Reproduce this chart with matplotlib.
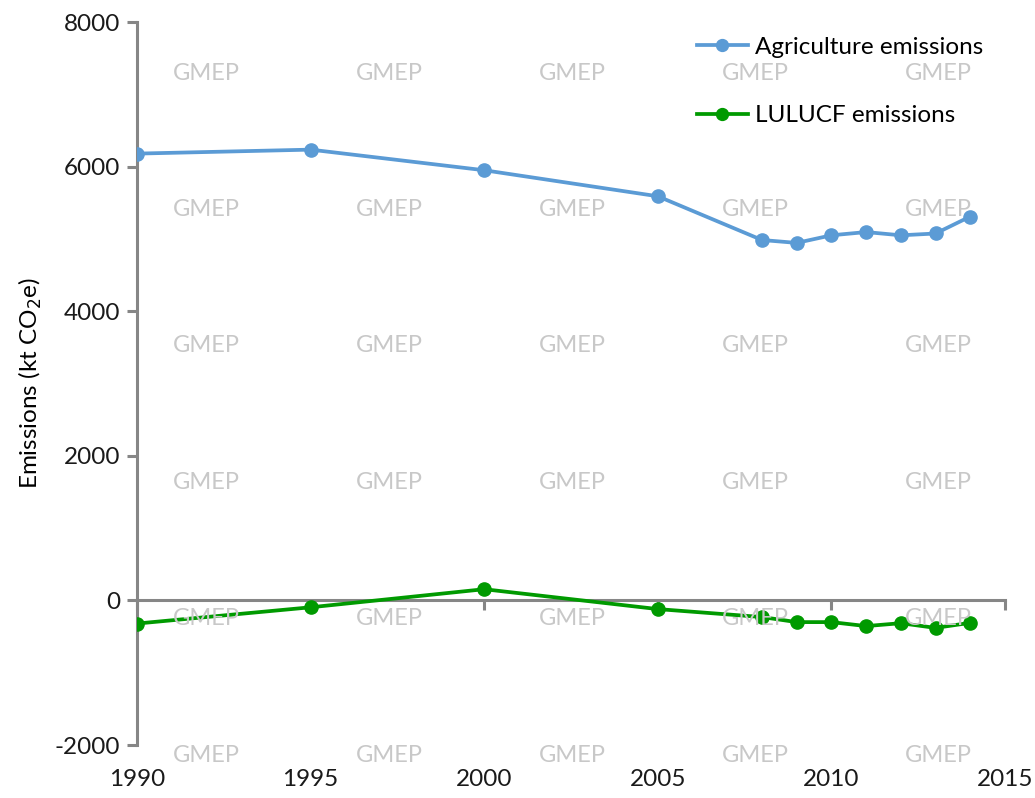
"""
Agriculture vs LULUCF emissions, 1990-2014
"""

import matplotlib.pyplot as plt
import numpy as np

years = [1990, 1995, 2000, 2005, 2008, 2009, 2010, 2011, 2012, 2013, 2014]
agriculture = [6180, 6235, 5950, 5590, 4985, 4945, 5050, 5095, 5050, 5075, 5310]
lulucf = [-320, -95, 155, -120, -230, -300, -300, -355, -315, -380, -310]

x_ticks = [1990, 1995, 2000, 2005, 2010, 2015]
y_ticks = [-2000, 0, 2000, 4000, 6000, 8000]

blue = '#5B9BD5'
green = '#009A00'
axis_grey = '#868686'

plt.rcParams['font.family'] = ['Lato', 'DejaVu Sans']
plt.rcParams['axes.unicode_minus'] = False

fig = plt.figure(figsize=(10.35, 7.98), dpi=100)
ax = fig.add_axes([0.1324, 0.0664, 0.971 - 0.1324, 0.9724 - 0.0664])

ax.plot(years, agriculture, '-o', color=blue, linewidth=2.7, markersize=9.5,
        label='Agriculture emissions', zorder=3)
ax.plot(years, lulucf, '-o', color=green, linewidth=2.7, markersize=9.5,
        label='LULUCF emissions', zorder=3)

ax.set_xlim(1990, 2015)
ax.set_ylim(-2000, 8000)
ax.set_yticks(y_ticks)
ax.set_xticks(x_ticks)

# x axis line sits at zero, labels stay at the bottom
ax.spines['bottom'].set_position(('data', 0))
ax.spines['top'].set_visible(False)
ax.spines['right'].set_visible(False)
for s in ['bottom', 'left']:
    ax.spines[s].set_color(axis_grey)
    ax.spines[s].set_linewidth(2.2)
ax.tick_params(axis='x', direction='out', length=7, width=2.2, color=axis_grey,
               labelbottom=False)
ax.tick_params(axis='y', direction='out', length=7, width=2.2, color=axis_grey,
               labelsize=17.5, labelcolor='#1a1a1a', pad=5)

sec = ax.secondary_xaxis('bottom')
sec.set_xticks(x_ticks)
sec.spines['bottom'].set_visible(False)
sec.tick_params(length=0, labelsize=17.5, labelcolor='#1a1a1a', pad=17)

ax.set_ylabel('Emissions (kt CO$_2$e)', fontsize=17.5, labelpad=8)

ax.legend(loc='upper right', bbox_to_anchor=(1.0, 1.01), frameon=False,
          fontsize=17.5, labelspacing=1.95, handlelength=2.1, handletextpad=0.3,
          markerscale=0.9)

# watermark grid
for i in range(5):
    for j in range(6):
        fig.text(0.199 + i * 0.1768, 0.9085 - j * 0.171, 'GMEP', fontsize=17,
                 color='#c8c8c8', ha='center', va='center', zorder=0)

plt.savefig('out.png', dpi=100)
